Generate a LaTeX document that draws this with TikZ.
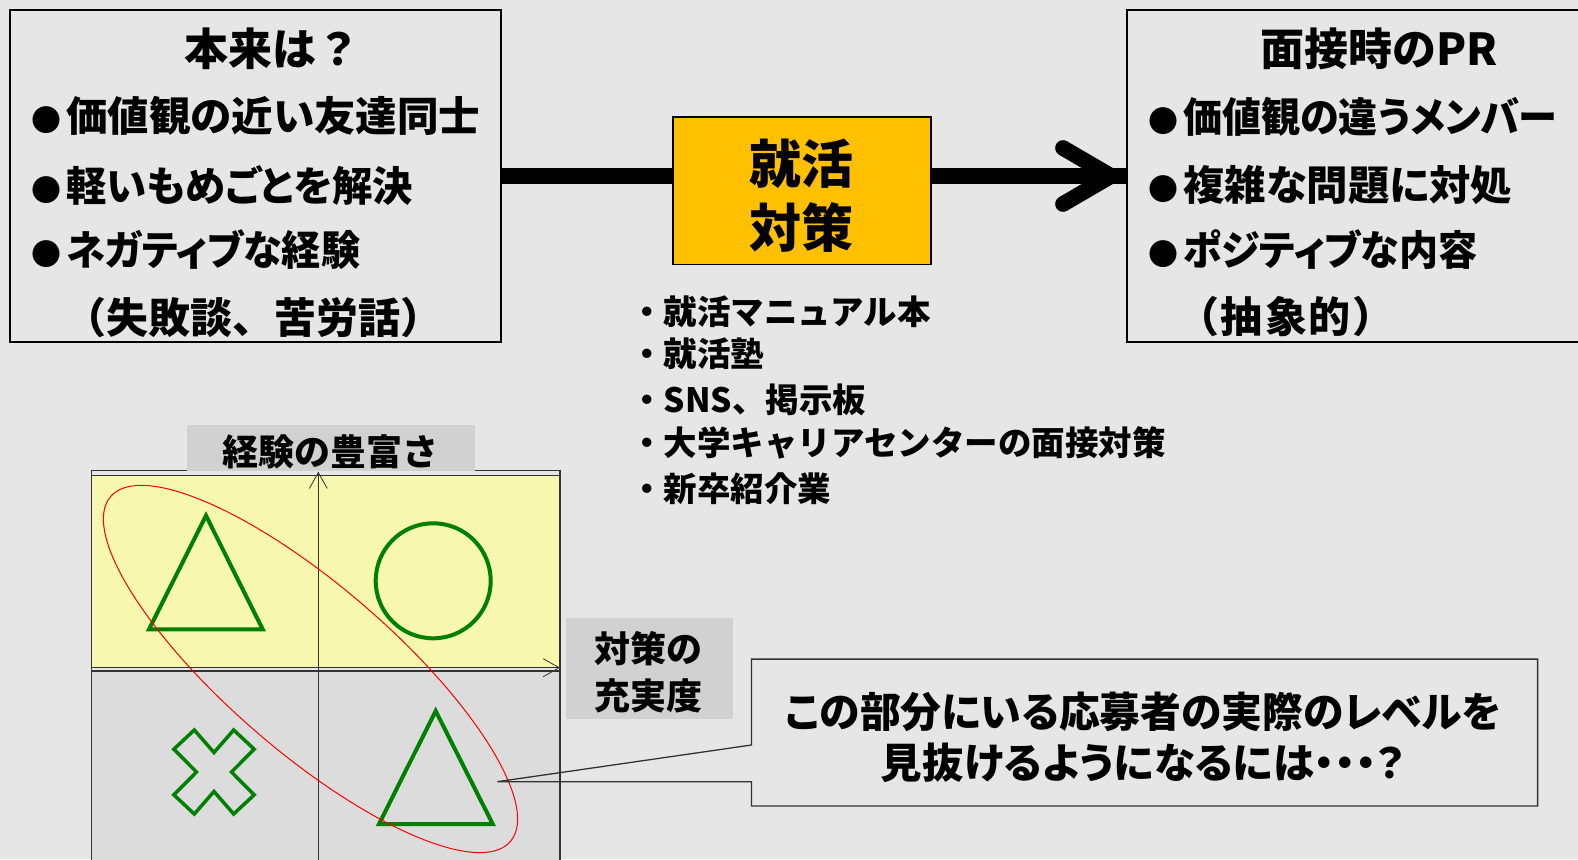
\documentclass[tikz,border=0pt]{standalone}
\usepackage{fontspec}
\usepackage{graphicx}
\usetikzlibrary{arrows.meta,calc}
\IfFontExistsTF{Noto Sans CJK JP Black}
 {\newfontfamily\jpp{Noto Sans CJK JP Black}[RawFeature=+palt]
  \newfontfamily\jpm{Noto Sans CJK JP Black}}
 {\newfontfamily\jpp{Noto Sans CJK JP Bold}[RawFeature=+palt,FakeBold=1.5]
  \newfontfamily\jpm{Noto Sans CJK JP Bold}[FakeBold=1.5]}
\newcommand\fitw[2]{\resizebox{#1}{\height}{#2}}
\newcommand\bul{{\fontsize{30}{30}\selectfont ●}\hspace{5pt}}
\definecolor{bgc}{HTML}{E6E6E6}
\definecolor{qyellow}{HTML}{F7F7B0}
\definecolor{qgray}{HTML}{DCDCDC}
\definecolor{labgray}{HTML}{D1D1D1}
\definecolor{ybox}{HTML}{FFC000}
\definecolor{gshp}{HTML}{008000}
\definecolor{frm}{HTML}{333333}
\tikzset{
  bigbox/.style={draw=black, line width=1.8pt, rectangle, inner sep=0pt, outer sep=0pt},
  yelbox/.style={draw=black, line width=1.6pt, fill=ybox, rectangle, inner sep=0pt, outer sep=0pt},
  bodytxt/.style={inner sep=0pt, font=\jpp\fontsize{41}{67}\selectfont},
  titletxt/.style={inner sep=0pt, font=\jpm\fontsize{44}{67}\selectfont},
  parentxt/.style={inner sep=0pt, font=\jpm\fontsize{42}{67}\selectfont},
  listtxt/.style={inner sep=0pt, anchor=west, font=\jpm\fontsize{33.5}{44}\selectfont},
  labbox/.style={fill=labgray, draw=none, rectangle, inner sep=0pt},
  labtxt/.style={inner sep=0pt, align=center, font=\jpm\fontsize{36}{47}\selectfont},
  conn/.style={line width=15.7pt, black},
  chev/.style={line width=15.7pt, black, line cap=round, line join=miter},
  frame/.style={draw=frm, line width=1.2pt},
  axisline/.style={draw=frm, line width=0.8pt, -{Straight Barb[length=16pt,width=18pt,line width=0.8pt]}},
  gshape/.style={draw=gshp, line width=4pt, line join=miter},
  callout/.style={draw=frm, line width=1.3pt},
}
\begin{document}
\begin{tikzpicture}[x=1pt,y=-1pt]
\useasboundingbox (0,0) rectangle (1578,859);
\fill[bgc] (0,0) rectangle (1578,859);

% top-left box
\node[bigbox, minimum width=491pt, minimum height=332pt] (L) at (255.5,176) {};
\node[titletxt] (Lt) at (272,49) {本来は？};
\node[bodytxt, anchor=west] (L1) at (31,116) {\bul\fitw{414pt}{価値観の近い友達同士}};
\node[bodytxt, anchor=west] (L2) at (31,186) {\bul\fitw{347pt}{軽いもめごとを解決}};
\node[bodytxt, anchor=west] (L3) at (31,250) {\bul\fitw{294pt}{ネガティブな経験}};
\node[parentxt] (L4) at (253,318) {（失敗談、苦労話）};

% top-right box
\node[bigbox, minimum width=473pt, minimum height=332pt] (R) at (1363.5,176) {};
\node[titletxt] (Rt) at (1379,49) {面接時のPR};
\node[bodytxt, anchor=west] (R1) at (1148,117) {\bul\fitw{374pt}{価値観の違うメンバー}};
\node[bodytxt, anchor=west] (R2) at (1148,185) {\bul\fitw{329pt}{複雑な問題に対処}};
\node[bodytxt, anchor=west] (R3) at (1148,250) {\bul\fitw{294pt}{ポジティブな内容}};
\node[parentxt] (R4) at (1286,316.5) {（\kern2pt 抽\kern2pt 象\kern2pt 的\kern2pt ）};

% middle yellow box
\node[yelbox, minimum width=258pt, minimum height=147.6pt] (Y) at (801.9,190.5) {};
\node[inner sep=0pt, align=center, font=\jpp\fontsize{52}{63.8}\selectfont] (Yt) at (801.5,195.6) {就活\\対策};

% connectors
\draw[conn] (L.east) -- (L.east -| Y.west);
\draw[conn] (Y.east |- R.west) -- (R.west);
\draw[chev] ($(R.west)+(-64,-28)$) -- ($(R.west)+(-16,0)$) -- ($(R.west)+(-64,28)$);

% list
\node[listtxt] (M1) at (630,311.7) {・就活マニュアル本};
\node[listtxt] (M2) at (630,354) {・就活塾};
\node[listtxt] (M3) at (630,400) {・SNS、掲示板};
\node[listtxt] (M4) at (630,443) {・大学キャリアセンターの面接対策};
\node[listtxt] (M5) at (630,489) {・新卒紹介業};

% quadrant chart
\draw[frame] (91.7,470.7) rectangle (560,900);
\draw[frame, fill=qyellow] (91.7,475.7) rectangle (560,667.7);
\draw[frame, fill=qgray] (91.7,671) rectangle (560,900);
\draw[axisline] (318.3,900) -- (318.3,471.7);
\draw[axisline] (91.7,667.7) -- (560,667.7);

\draw[gshape] (206,515.7) -- (262.7,629.3) -- (149,629.3) -- cycle;
\draw[gshape] (433.2,580.8) circle [radius=57.5pt];
\draw[gshape] (435.7,711) -- (492.7,824) -- (379,824) -- cycle;
\draw[gshp, line width=3.5pt, line join=miter, shift={(214,772)}]
  (-19.7,-42) -- (0,-19.5) -- (19.7,-42) -- (40.2,-22.8) -- (17.5,0) -- (40.2,22.8)
  -- (19.7,42) -- (0,19.5) -- (-19.7,42) -- (-40.2,22.8) -- (-17.5,0) -- (-40.2,-22.8) -- cycle;
\draw[red, line width=1pt, rotate around={-40.8:(310.5,669)}] (310.5,669) ellipse [x radius=264pt, y radius=83pt];

% axis labels
\node[labbox, minimum width=287.7pt, minimum height=45.7pt] (Ex) at (331.2,447.9) {};
\node[labtxt] (Ext) at (330.3,451.7) {経験の豊富さ};
\node[labbox, minimum width=166.7pt, minimum height=101pt] (Tx) at (649.3,668.8) {};
\node[labtxt] (Txt) at (648,672.5) {対策の\\充実度};

% callout
\node[inner sep=0pt, minimum width=785.7pt, minimum height=146.4pt] (C) at (1144.55,732.5) {};
\node[inner sep=0pt, align=center, font=\jpp\fontsize{41.5}{51.6}\selectfont] (Ct) at (1143,737.5) {\fitw{715pt}{この部分にいる応募者の実際のレベルを}\\見抜けるようになるには・・・？};
\coordinate (tip) at (497.3,781.7);
\draw[callout] (tip) -- (C.west |- 0,745) -- (C.north west) -- (C.north east) -- (C.south east) -- (C.south west) -- (C.west |- 0,781.7) -- cycle;
\end{tikzpicture}
\end{document}
